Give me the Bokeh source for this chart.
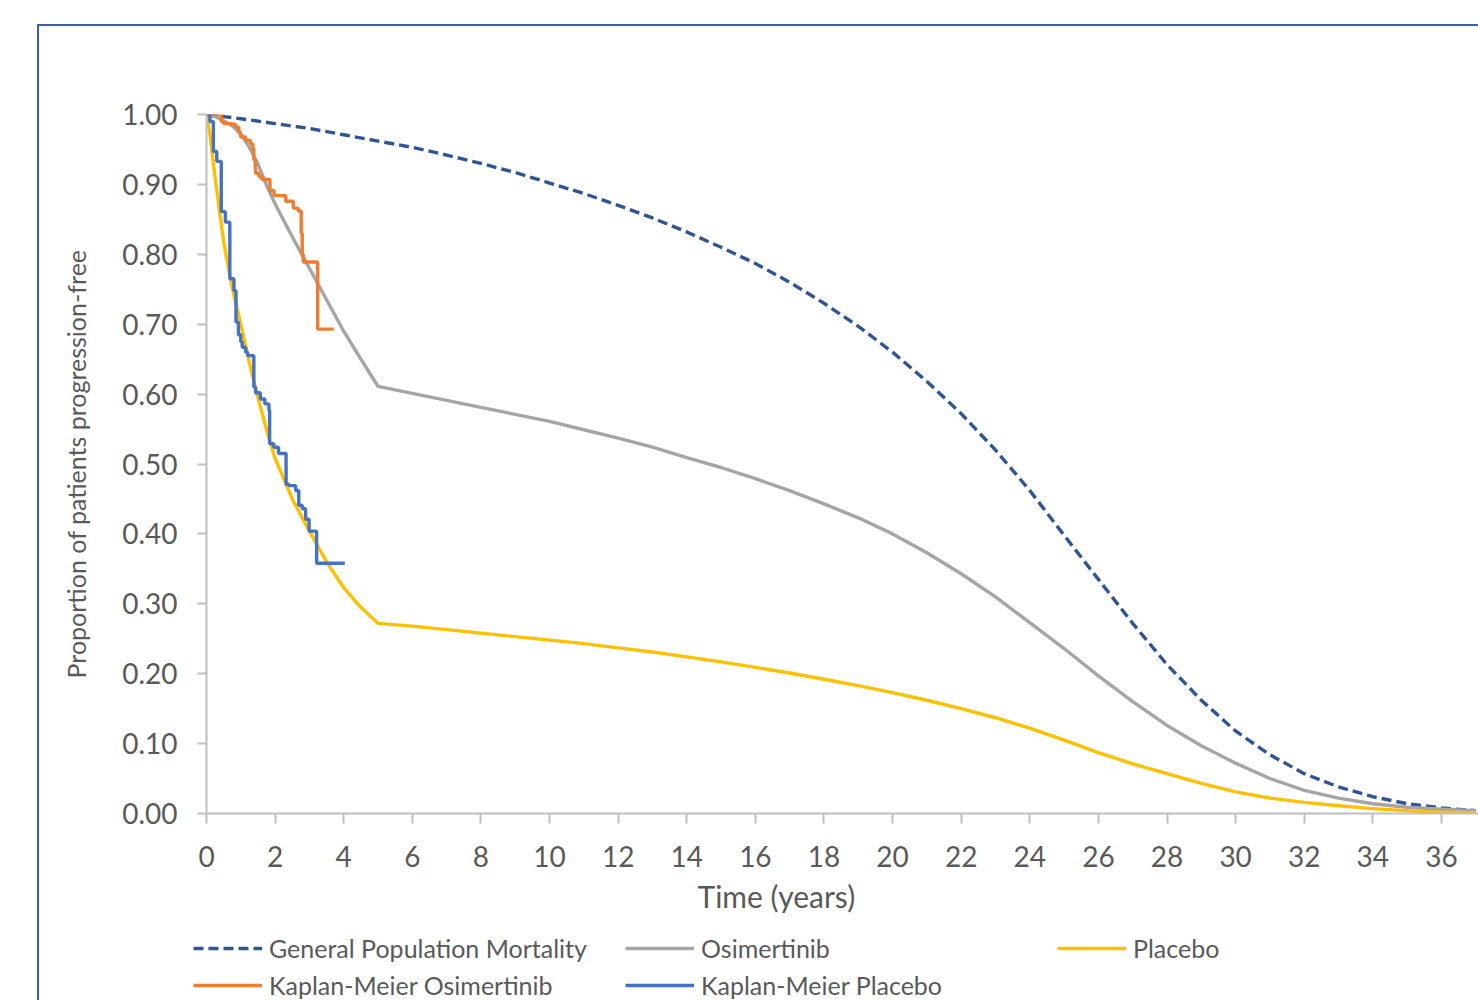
from bokeh.plotting import figure
from bokeh.models import (Legend, LegendItem, FixedTicker, NumeralTickFormatter,
                          Range1d, Title)
from bokeh.layouts import column
from bokeh.embed import file_html
from bokeh.resources import INLINE

# ---------------- data ----------------
gen_t = [0, 1, 2, 3, 4, 5, 6, 7, 8, 9, 10, 11, 12, 13, 14, 15, 16, 17, 18, 19, 20,
         21, 22, 23, 24, 25, 26, 27, 28, 29, 30, 31, 32, 33, 34, 35, 36, 37]
gen_v = [1.0, 0.994, 0.987, 0.980, 0.971, 0.962, 0.953, 0.942, 0.930, 0.917, 0.902,
         0.887, 0.870, 0.852, 0.832, 0.810, 0.787, 0.760, 0.730, 0.697, 0.660,
         0.618, 0.572, 0.520, 0.462, 0.398, 0.335, 0.272, 0.213, 0.162, 0.118,
         0.084, 0.057, 0.038, 0.024, 0.014, 0.008, 0.004]

osi_t = [0, 0.25, 0.5, 0.75, 1, 1.25, 1.5, 1.75, 2, 2.5, 3, 3.5, 4, 4.5, 5,
         6, 7, 8, 9, 10, 11, 12, 13, 14, 15, 16, 17, 18, 19, 20, 21, 22, 23, 24,
         25, 26, 27, 28, 29, 30, 31, 32, 33, 34, 35, 36, 37]
osi_v = [1.0, 0.997, 0.991, 0.984, 0.972, 0.953, 0.929, 0.899, 0.872, 0.825, 0.780,
         0.735, 0.690, 0.650, 0.611,
         0.601, 0.591, 0.581, 0.571, 0.561, 0.549, 0.537, 0.524, 0.509, 0.495,
         0.479, 0.462, 0.443, 0.423, 0.400, 0.373, 0.343, 0.310, 0.273, 0.236,
         0.197, 0.160, 0.126, 0.097, 0.072, 0.050, 0.033, 0.022, 0.014, 0.009,
         0.006, 0.004]

pla_t = [0, 0.1, 0.25, 0.5, 0.75, 1, 1.25, 1.5, 1.75, 2, 2.5, 3, 3.5, 4, 4.5, 5,
         6, 7, 8, 9, 10, 11, 12, 13, 14, 15, 16, 17, 18, 19, 20, 21, 22, 23, 24,
         25, 26, 27, 28, 29, 30, 31, 32, 33, 34, 35, 36, 37]
pla_v = [1.0, 0.972, 0.910, 0.818, 0.752, 0.700, 0.645, 0.595, 0.549, 0.508, 0.450,
         0.404, 0.360, 0.323, 0.295, 0.272,
         0.268, 0.263, 0.258, 0.253, 0.248, 0.243, 0.237, 0.231, 0.224, 0.217,
         0.209, 0.201, 0.192, 0.183, 0.173, 0.162, 0.150, 0.137, 0.122, 0.105,
         0.087, 0.071, 0.057, 0.043, 0.031, 0.022, 0.016, 0.011, 0.007, 0.004,
         0.002, 0.001]

km_osi_t = [0, 0.43, 0.50, 0.75, 0.85, 0.94, 0.99, 1.14, 1.28, 1.35, 1.38, 1.42,
            1.43, 1.53, 1.62, 1.85, 1.97, 2.31, 2.53, 2.67, 2.76, 2.79, 2.82, 3.24, 3.71]
km_osi_v = [1.0, 0.990, 0.987, 0.986, 0.982, 0.975, 0.968, 0.963, 0.958, 0.951, 0.935,
            0.923, 0.916, 0.911, 0.907, 0.891, 0.884, 0.876, 0.866, 0.862, 0.830,
            0.800, 0.789, 0.693, 0.693]

km_pla_t = [0, 0.10, 0.20, 0.30, 0.43, 0.55, 0.68, 0.80, 0.86, 0.93, 1.00, 1.04,
            1.14, 1.20, 1.38, 1.43, 1.57, 1.70, 1.82, 1.84, 1.96, 2.10, 2.32, 2.40,
            2.60, 2.69, 2.79, 2.89, 2.99, 3.21, 4.03]
km_pla_v = [1.0, 0.990, 0.947, 0.933, 0.861, 0.846, 0.765, 0.748, 0.703, 0.685, 0.675,
            0.667, 0.660, 0.655, 0.610, 0.602, 0.593, 0.586, 0.577, 0.529, 0.524,
            0.515, 0.471, 0.469, 0.462, 0.441, 0.436, 0.421, 0.404, 0.358, 0.358]

x_ticks = list(range(0, 37, 2))
y_ticks = [0.0, 0.1, 0.2, 0.3, 0.4, 0.5, 0.6, 0.7, 0.8, 0.9, 1.0]

series_names = ["General Population Mortality", "Osimertinib", "Placebo",
                "Kaplan-Meier Osimertinib", "Kaplan-Meier Placebo"]
series_colors = ["#2f5597", "#a5a5a5", "#ffc000", "#ed7d31", "#4472c4"]
series_dash = ["10 5", "solid", "solid", "solid", "solid"]
series_data = [(gen_t, gen_v), (osi_t, osi_v), (pla_t, pla_v),
               (km_osi_t, km_osi_v), (km_pla_t, km_pla_v)]

# ---------------- styling constants ----------------
FONT = "Lato"
TXT = "#595959"
AX = "#bfbfbf"
LW = 3.4
ORIGIN_X = 39   # page x of the figures' left edge (inside the blue border)
ORIGIN_Y = 26   # page y of the main figure's top edge

# ---------------- main chart ----------------
p = figure(output_backend="svg", toolbar_location=None,
           frame_width=1272, frame_height=699,
           x_range=Range1d(0, 37.08), y_range=Range1d(0, 1.0))
p.min_border_left = 206 - ORIGIN_X
p.min_border_right = 0
p.min_border_top = 114 - ORIGIN_Y
p.min_border_bottom = 925 - 813
p.outline_line_color = None
p.background_fill_color = "white"
p.border_fill_color = "white"
p.xgrid.visible = False
p.ygrid.visible = False

for ax in (p.xaxis[0], p.yaxis[0]):
    ax.axis_line_color = AX
    ax.axis_line_width = 2
    ax.major_tick_line_color = AX
    ax.major_tick_line_width = 2
    ax.major_tick_in = 0
    ax.minor_tick_line_color = None
    ax.major_label_text_color = TXT
    ax.major_label_text_font = FONT
    ax.major_label_text_font_size = "28px"
    ax.axis_label_text_color = TXT
    ax.axis_label_text_font = FONT
    ax.axis_label_text_font_style = "normal"

p.xaxis.ticker = FixedTicker(ticks=x_ticks)
p.xaxis.major_tick_out = 10
p.xaxis.major_label_standoff = 22

p.yaxis.ticker = FixedTicker(ticks=y_ticks)
p.yaxis.formatter = NumeralTickFormatter(format="0.00")
p.yaxis.major_tick_out = 9
p.yaxis.major_label_standoff = 20
p.yaxis.axis_label = "Proportion of patients progression-free"
p.yaxis.axis_label_text_font_size = "25px"
p.yaxis.axis_label_standoff = 28

xtitle = Title(text="Time (years)", align="left", offset=697 - 206,
               text_font=FONT, text_font_size="30px", text_color=TXT,
               text_font_style="normal", standoff=13)
p.add_layout(xtitle, "below")

p.line(gen_t, gen_v, line_color=series_colors[0], line_width=LW, line_dash=series_dash[0])
p.line(osi_t, osi_v, line_color=series_colors[1], line_width=LW, line_join="round")
p.line(pla_t, pla_v, line_color=series_colors[2], line_width=LW, line_join="round")
p.step(km_osi_t, km_osi_v, mode="after", line_color=series_colors[3], line_width=LW)
p.step(km_pla_t, km_pla_v, mode="after", line_color=series_colors[4], line_width=LW)

# ---------------- legend strip ----------------
LF_H = 1000 - 925
LF_W = 1478 - ORIGIN_X
# the strip's x range lies well right of the data, so its copies of the series
# (used only to drive the legend samples) are never drawn inside it
lf = figure(output_backend="svg", toolbar_location=None,
            frame_width=LF_W, frame_height=LF_H,
            x_range=Range1d(100, 100 + LF_W), y_range=Range1d(0, LF_H),
            min_border=0)
lf.min_border_left = 0
lf.min_border_right = 0
lf.min_border_top = 0
lf.min_border_bottom = 0
lf.axis.visible = False
lf.xgrid.visible = False
lf.ygrid.visible = False
lf.outline_line_color = None
lf.border_fill_color = "white"

items = []
for name, col, dash, (xs, ys) in zip(series_names, series_colors, series_dash, series_data):
    r = lf.line(xs, ys, line_color=col, line_width=LW, line_dash=dash)
    items.append(LegendItem(label=name, renderers=[r]))

legend = Legend(items=items, orientation="horizontal", ncols=3,
                location=(193 - ORIGIN_X, 0), padding=0, margin=0, spacing=7,
                glyph_width=69, glyph_height=28, label_height=28,
                label_width=432 - 69 - 7 - 7, label_standoff=7,
                label_text_font=FONT, label_text_font_size="25px",
                label_text_color=TXT, border_line_color=None,
                background_fill_alpha=0)
lf.add_layout(legend, "center")

layout = column(p, lf, spacing=0, margin=(ORIGIN_Y - 2, 0, 0, ORIGIN_X - 2),
                styles={"border-top": "2px solid #3b5ea6",
                        "border-left": "2px solid #3b5ea6"})

open("out.html", "w").write(file_html(layout, INLINE))
